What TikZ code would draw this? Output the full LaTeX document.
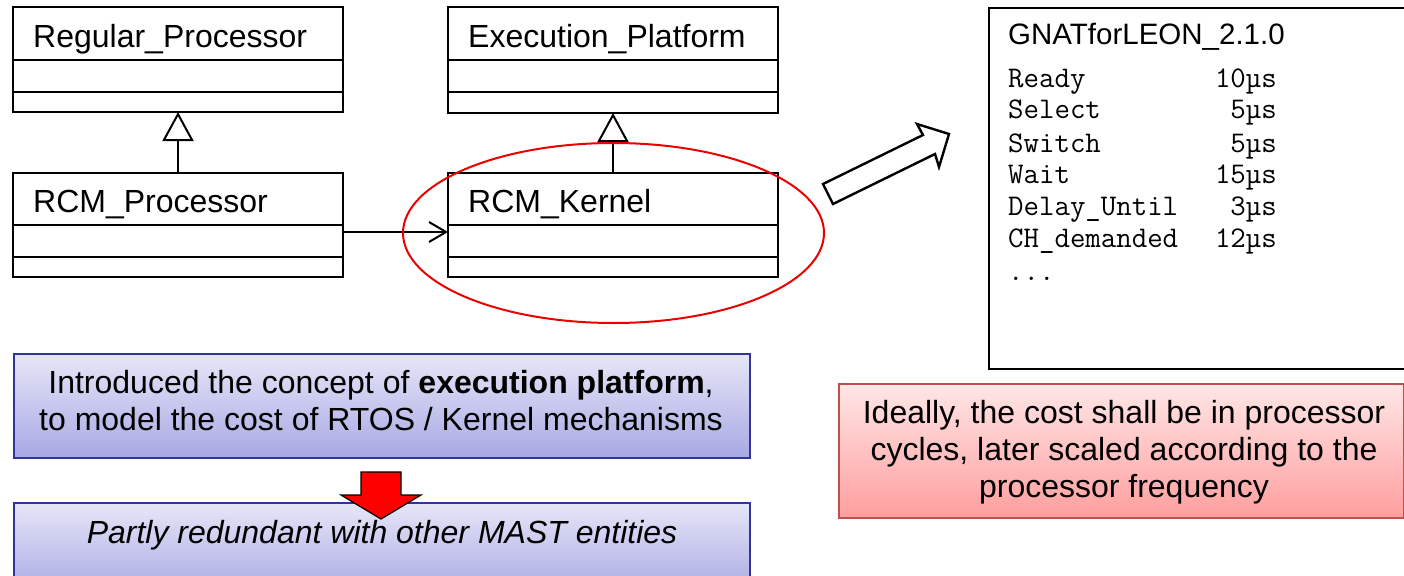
\documentclass[tikz,border=0pt]{standalone}
\usepackage{fontspec}
\setmainfont{Liberation Sans}
\usetikzlibrary{arrows.meta,shapes.geometric}

\definecolor{noteblue}{RGB}{51,51,153}
\definecolor{notebluetop}{RGB}{230,230,248}
\definecolor{notebluebot}{RGB}{168,168,228}
\definecolor{notered}{RGB}{192,80,77}
\definecolor{noteredtop}{RGB}{255,230,230}
\definecolor{noteredbot}{RGB}{255,158,158}
\definecolor{ringred}{RGB}{235,0,0}

\begin{document}
\begin{tikzpicture}[x=1pt,y=-1pt,
  umlbox/.style={draw, line width=2.2pt, inner sep=0pt, outer sep=0pt,
    minimum width=330pt, anchor=north west},
  divider/.style={line width=1.8pt},
  umlname/.style={anchor=base west, inner sep=0pt, font=\fontsize{32}{38}\selectfont},
  inherit/.style={line width=2pt, -{Triangle[open, length=29pt, width=31pt]}},
  assoc/.style={line width=2pt, -{Straight Barb[length=17pt, width=20pt]}},
  bigtext/.style={inner sep=0pt, font=\fontsize{32}{38}\selectfont},
  costname/.style={anchor=base west, inner sep=0pt, font=\ttfamily\fontsize{30}{34}\selectfont},
  costval/.style={anchor=base east, inner sep=0pt, font=\ttfamily\fontsize{30}{34}\selectfont},
  bluenote/.style={draw=noteblue, line width=2pt, top color=notebluetop,
    bottom color=notebluebot, minimum width=736pt, anchor=north west, inner sep=0pt},
  rednote/.style={draw=notered, line width=2.4pt, top color=noteredtop,
    bottom color=noteredbot, minimum width=565pt, minimum height=134pt,
    anchor=north west, inner sep=0pt},
  blockarrow/.style={draw=black, line width=2.4pt, fill=white, line join=miter},
  downarrow/.style={draw=black, line width=1.2pt, fill=red, line join=miter}
]
\useasboundingbox (0,0) rectangle (1404,575);

% ---- UML class boxes ----
\node[umlbox, minimum height=105pt] (regproc) at (13,7) {};
\node[umlbox, minimum height=104pt] (rcmproc) at (13,173) {};
\node[umlbox, minimum height=106pt] (execplat) at (448,7) {};
\node[umlbox, minimum height=104pt] (rcmkern) at (448,173) {};

\foreach \b/\da/\db in {regproc/53/85, execplat/53/85, rcmproc/52/84, rcmkern/52/84}{
  \draw[divider] ([yshift=-\da pt]\b.north west) -- ([yshift=-\da pt]\b.north east);
  \draw[divider] ([yshift=-\db pt]\b.north west) -- ([yshift=-\db pt]\b.north east);
}

\node[umlname] (regprocname) at (33,48) {Regular\_Processor};
\node[umlname] (rcmprocname) at (33,212) {RCM\_Processor};
\node[umlname] (execplatname) at (468,48) {Execution\_Platform};
\node[umlname] (rcmkernname) at (468,212) {RCM\_Kernel};

% generalisations and association
\draw[inherit] (rcmproc.north) -- (regproc.south);
\draw[inherit] (rcmkern.north) -- (execplat.south);
\draw[assoc] ([yshift=-7pt]rcmproc.east) -- ([yshift=-7pt]rcmkern.west);

% highlight ring round the kernel class
\node[ellipse, draw=ringred, line width=2pt, inner sep=0pt,
  minimum width=421pt, minimum height=180pt] (ring) at (613.5,233) {};

% hollow block arrow towards the cost table
\draw[blockarrow] (823,184) -- (923,135) -- (917,124) -- (949,134)
  -- (939,167) -- (935,154) -- (833,204) -- cycle;

% ---- cost table of the run-time ----
\node[draw, line width=2.2pt, inner sep=0pt, anchor=north west,
  minimum width=430pt, minimum height=361pt] (gnat) at (988,7) {};
\node[anchor=base west, inner sep=0pt, font=\fontsize{29.5}{34}\selectfont]
  (gnattitle) at (1008,45) {GNATforLEON\_2.1.0};
\foreach \n/\v/\y in {Ready/10/88, Select/5/118, Switch/5/152, Wait/15/183,
  Delay\_Until/3/215, CH\_demanded/12/247}{
  \node[costname] at (1008,\y) {\n};
  \node[costval] at (1277,\y) {\v µs};
}
\node[costname] (more) at (1008,280) {...};

% ---- notes ----
\node[bluenote, minimum height=104pt] (concept) at (13,353) {};
\node[bigtext, anchor=base] (conceptA) at (381,393)
  {Introduced the concept of \textbf{execution platform},};
\node[bigtext, anchor=base] (conceptB) at (381,430)
  {to model the cost of RTOS / Kernel mechanisms};

\node[bluenote, minimum height=92pt] (redund) at (13,502) {};
\node[bigtext, anchor=base] (redundtext) at (382,543)
  {\itshape Partly redundant with other MAST entities};

\draw[downarrow] (361,472) -- (401,472) -- (401,495) -- (421,495)
  -- (381,519) -- (341,495) -- (361,495) -- cycle;

\node[rednote] (ideal) at (838,383) {};
\node[bigtext, anchor=base] (idealA) at (1124,423) {Ideally, the cost shall be in processor};
\node[bigtext, anchor=base] (idealB) at (1124,460) {cycles, later scaled according to the};
\node[bigtext, anchor=base] (idealC) at (1124,497) {processor frequency};
\end{tikzpicture}
\end{document}
